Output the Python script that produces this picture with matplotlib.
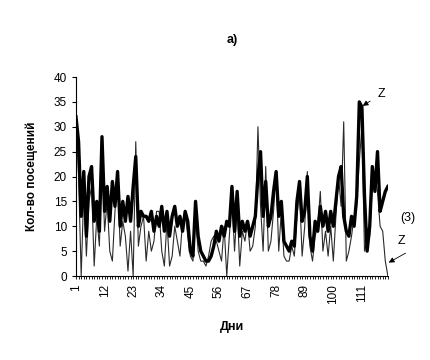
import numpy as np
import matplotlib
matplotlib.use("Agg")
import matplotlib.pyplot as plt

plt.rcParams['font.family'] = ['Liberation Sans', 'DejaVu Sans']

# visits per day, thick series (Z) and thin series (3)
days = np.arange(1, 122)
visits_z = [32, 27, 12, 21, 8, 20, 22, 11, 15, 9,
            28, 13, 18, 11, 19, 14, 21, 10, 15, 11,
            16, 11, 18, 24, 10, 13, 12, 12, 11, 13,
            9, 12, 10, 14, 9, 13, 8, 12, 14, 10,
            12, 9, 13, 11, 5, 4, 15, 8, 5, 4,
            3, 3, 4, 6, 9, 7, 10, 8, 11, 10,
            18, 9, 17, 8, 11, 9, 11, 8, 10, 12,
            20, 25, 12, 19, 10, 12, 17, 21, 12, 15,
            7, 6, 5, 7, 6, 15, 19, 11, 13, 20,
            8, 5, 11, 9, 14, 10, 13, 9, 13, 10,
            15, 20, 22, 12, 9, 8, 12, 10, 16, 35,
            34, 16, 5, 10, 22, 17, 25, 13, 15, 17,
            18]
visits_3 = [32, 20, 0, 17, 4, 15, 18, 2, 12, 6,
            25, 9, 15, 5, 3, 13, 20, 6, 11, 8,
            1, 9, 0, 27, 6, 10, 12, 3, 9, 5,
            7, 13, 13, 5, 2, 11, 2, 4, 10, 7,
            4, 11, 13, 8, 4, 3, 12, 5, 3, 3,
            2, 4, 7, 8, 7, 5, 3, 10, 0, 8,
            16, 5, 14, 2, 9, 7, 11, 5, 6, 10,
            30, 14, 5, 22, 5, 7, 13, 21, 5, 13,
            4, 3, 3, 6, 4, 12, 17, 4, 10, 21,
            6, 3, 8, 10, 17, 5, 9, 4, 10, 3,
            12, 20, 14, 31, 3, 5, 8, 12, 14, 23,
            30, 5, 7, 8, 18, 20, 17, 10, 9, 3,
            0]
tick_days = [1, 12, 23, 34, 45, 56, 67, 78, 89, 100, 111]

fig = plt.figure(figsize=(4.31, 3.6), dpi=100)
ax = fig.add_axes([0.1763, 0.2333, 0.7237, 0.5528])

ax.plot(days, visits_3, color='#2a2a2a', lw=0.8)
ax.plot(days, visits_z, color='black', lw=2.4)

ax.set_xlim(1, 121)
ax.set_ylim(0, 40)
ax.set_yticks(np.arange(0, 41, 5))
ax.set_xticks(tick_days)
ax.set_xticklabels([str(d) for d in tick_days], rotation=90)
ax.set_xticks(days, minor=True)
ax.tick_params(axis='x', which='minor', length=2, width=0.6, direction='out')
ax.tick_params(axis='x', which='major', length=2, width=0.6, direction='out',
               labelsize=8.5, pad=4)
ax.tick_params(axis='y', length=3, width=0.8, direction='out', labelsize=8.5)

for s in ['top', 'right']:
    ax.spines[s].set_visible(False)
for s in ['left', 'bottom']:
    ax.spines[s].set_linewidth(0.8)

ax.set_ylabel("Кол-во посещений", fontsize=8.5, fontweight='bold', labelpad=11)
ax.set_xlabel("Дни", fontsize=9, fontweight='bold', labelpad=12)
fig.text(0.538, 0.89, "a)", fontsize=9, fontweight='bold', ha='center', va='center')

# annotations
ax.annotate("Z", xy=(111.3, 34.2), xytext=(118.5, 36.6), fontsize=9,
            ha='center', va='center', annotation_clip=False,
            arrowprops=dict(arrowstyle='-|>', color='black', lw=0.6, shrinkB=0,
                            mutation_scale=8, shrinkA=4))
ax.text(128.8, 11.7, "(3)", fontsize=9, ha='center', va='center', clip_on=False)
ax.text(126.2, 7.0, "Z", fontsize=9, ha='center', va='center', clip_on=False)
ax.annotate("", xy=(121.3, 2.7), xytext=(127.8, 4.6), annotation_clip=False,
            arrowprops=dict(arrowstyle='-|>', color='black', lw=0.6, shrinkA=0,
                            shrinkB=0, mutation_scale=8))

fig.savefig("out.png", dpi=100)
